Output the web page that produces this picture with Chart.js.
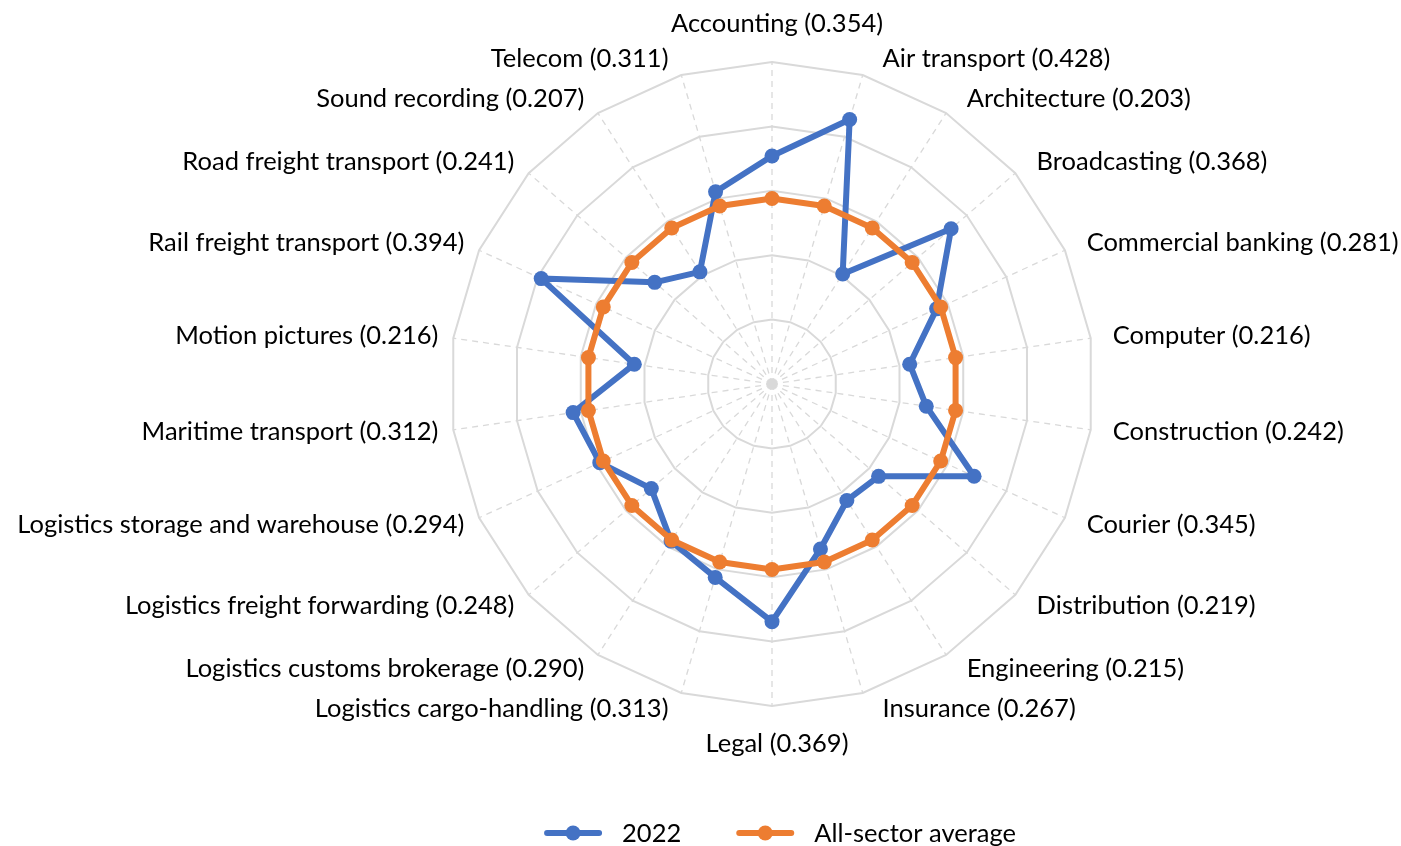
<!DOCTYPE html>
<html><head><meta charset="utf-8">
<script src="https://cdn.jsdelivr.net/npm/chart.js@4.4.1/dist/chart.umd.min.js"></script>
<style>html,body{margin:0;padding:0;background:#fff}#wrap{width:1401px;height:846px}</style>
</head><body><div id="wrap"><canvas id="c" width="1401" height="846"></canvas></div>
<script>
const categories = ["Accounting","Air transport","Architecture","Broadcasting","Commercial banking","Computer","Construction","Courier","Distribution","Engineering","Insurance","Legal","Logistics cargo-handling","Logistics customs brokerage","Logistics freight forwarding","Logistics storage and warehouse","Maritime transport","Motion pictures","Rail freight transport","Road freight transport","Sound recording","Telecom"];
const values2022 = [0.354,0.428,0.203,0.368,0.281,0.216,0.242,0.345,0.219,0.215,0.267,0.369,0.313,0.290,0.248,0.294,0.312,0.216,0.394,0.241,0.207,0.311];
const allSectorAverage = [0.288,0.288,0.288,0.288,0.288,0.288,0.288,0.288,0.288,0.288,0.288,0.288,0.288,0.288,0.288,0.288,0.288,0.288,0.288,0.288,0.288,0.288];
const seriesNames = ["2022","All-sector average"];
const scaleMin = 0, scaleMax = 0.5, scaleStep = 0.1;

const labels = categories.map((c,i)=>c+" ("+values2022[i].toFixed(3)+")");
const BLUE = "#4472C4", ORANGE = "#ED7D31";
const FONT_FAMILY = "Lato, 'Open Sans', sans-serif";
const FONT_SIZE = 25.5;
const FONT = FONT_SIZE + "px " + FONT_FAMILY;

// Draw point labels (Excel-like placement) and legend
const decorations = {
  id: 'decorations',
  beforeDatasetsDraw(chart){
    const s = chart.scales.r, ctx = chart.ctx;
    ctx.save(); ctx.fillStyle = '#d9d9d9';
    ctx.beginPath(); ctx.arc(s.xCenter, s.yCenter, 5.5, 0, Math.PI*2); ctx.fill(); ctx.restore();
  },
  afterDraw(chart){
    const s = chart.scales.r, ctx = chart.ctx;
    const R = s.drawingArea;
    ctx.save();
    ctx.font = FONT; ctx.fillStyle = '#000'; ctx.textBaseline = 'middle';
    const n = chart.data.labels.length;
    chart.data.labels.forEach((lab, i) => {
      const ang = i * 2 * Math.PI / n;
      const sn = Math.sin(ang);
      const pX = s.getPointPosition(i, R + 3);
      const pY = s.getPointPosition(i, R + 17);
      let x, y, align;
      if (Math.abs(sn) < 1e-6) {
        const pc = s.getPointPosition(i, R + 38);
        x = pc.x + 5; y = pc.y; align = 'center';
      } else if (sn > 0) {
        x = pX.x + 19; y = pY.y; align = 'left';
      } else {
        x = pX.x - 12; y = pY.y; align = 'right';
      }
      ctx.textAlign = align;
      ctx.fillText(lab, x, y);
    });
    // legend
    const ly = 834;
    const iconW = 58, gapIcon = 20, gapItem = 55;
    const items = chart.data.datasets.map(d => ({text: d.label, color: d.borderColor}));
    ctx.font = FONT;
    const widths = items.map(it => iconW + gapIcon + ctx.measureText(it.text).width);
    const total = widths.reduce((a,b)=>a+b,0) + gapItem*(items.length-1);
    let x0 = s.xCenter + 8 - total/2;
    items.forEach((it, k) => {
      ctx.strokeStyle = it.color; ctx.lineWidth = 6; ctx.lineCap = 'round';
      ctx.beginPath(); ctx.moveTo(x0 + 3, ly - 1); ctx.lineTo(x0 + iconW - 3, ly - 1); ctx.stroke();
      ctx.fillStyle = it.color; ctx.beginPath(); ctx.arc(x0 + iconW/2, ly - 1, 7.5, 0, Math.PI*2); ctx.fill();
      ctx.fillStyle = '#000'; ctx.textAlign = 'left';
      ctx.fillText(it.text, x0 + iconW + gapIcon, ly);
      x0 += widths[k] + gapItem;
    });
    ctx.restore();
  }
};

new Chart(document.getElementById('c'), {
  type: 'radar',
  data: {
    labels: labels,
    datasets: [
      {label: seriesNames[0], data: values2022, order: 1, borderColor: BLUE, backgroundColor: BLUE, borderWidth: 6, borderJoinStyle: 'round', pointRadius: 7.5, pointBackgroundColor: BLUE, pointBorderWidth: 0, fill: false},
      {label: seriesNames[1], data: allSectorAverage, order: 0, borderColor: ORANGE, backgroundColor: ORANGE, borderWidth: 6, borderJoinStyle: 'round', pointRadius: 7.5, pointBackgroundColor: ORANGE, pointBorderWidth: 0, fill: false}
    ]
  },
  options: {
    responsive: false, animation: false, devicePixelRatio: 1,
    layout: {padding: {top: 62, bottom: 140, left: 450, right: 307}},
    plugins: {
      legend: {display: false},
      tooltip: {enabled: false}
    },
    scales: {
      r: {
        min: scaleMin, max: scaleMax,
        ticks: {display: false, stepSize: scaleStep},
        grid: {color: '#d9d9d9', lineWidth: 2, circular: false},
        angleLines: {color: '#d9d9d9', lineWidth: 1.3, borderDash: [6,5]},
        pointLabels: {display: false}
      }
    }
  },
  plugins: [decorations]
});
</script></body></html>
